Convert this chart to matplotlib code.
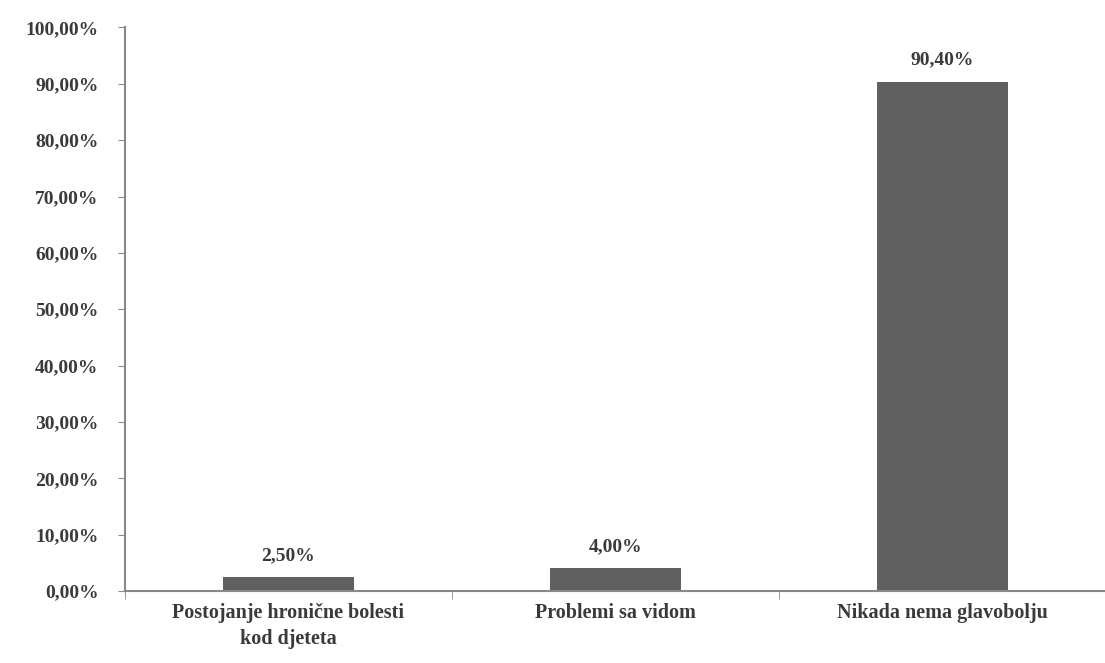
import matplotlib.pyplot as plt
import numpy as np

categories = ['Postojanje hronične bolesti\nkod djeteta', 'Problemi sa vidom', 'Nikada nema glavobolju']
values = [2.5, 4.0, 90.4]
yticks = [0, 10, 20, 30, 40, 50, 60, 70, 80, 90, 100]

plt.rcParams['font.family'] = ['Liberation Serif', 'DejaVu Serif']
plt.rcParams['font.weight'] = 'bold'

fig = plt.figure(figsize=(11.05, 6.63), dpi=100)
ax = fig.add_axes([0.113, 0.1086, 0.888, 0.85])

x = np.arange(len(categories))
ax.bar(x, values, width=0.4, color='#606060', zorder=2)

for xi, v in zip(x, values):
    ax.text(xi, v + 2.3, ('%.2f%%' % v).replace('.', ','), ha='center', va='bottom',
            fontsize=14, fontweight='bold', color='#3a3a3a')

ax.set_xlim(-0.5, len(categories) - 0.5)
ax.set_ylim(0, 100)
ax.set_yticks(yticks)
ax.set_yticklabels([('%.2f%%' % t).replace('.', ',') for t in yticks],
                   fontsize=14, fontweight='bold', color='#3a3a3a')
ax.set_xticks(x)
ax.set_xticklabels(categories, fontsize=14.5, fontweight='bold', color='#3a3a3a',
                   linespacing=1.35)
ax.set_xticks(np.arange(len(categories) + 1) - 0.5, minor=True)

ax.tick_params(axis='y', length=5, color='#888888', pad=14)
ax.tick_params(axis='x', which='major', length=0, pad=9)
ax.tick_params(axis='x', which='minor', length=6, color='#888888')

for s in ['top', 'right']:
    ax.spines[s].set_visible(False)
for s in ['left', 'bottom']:
    ax.spines[s].set_color('#888888')
    ax.spines[s].set_linewidth(1.5)

fig.savefig('out.png', dpi=100)
